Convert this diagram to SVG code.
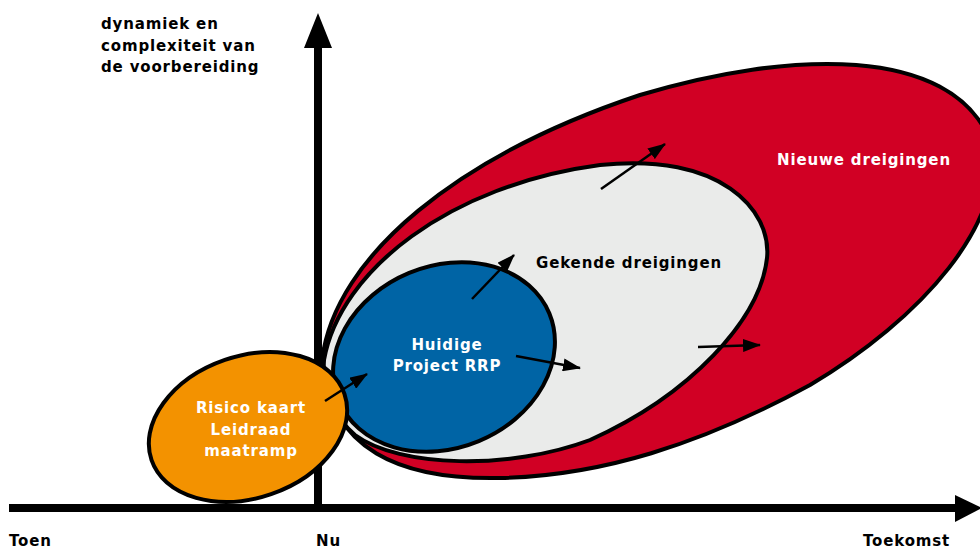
<svg xmlns="http://www.w3.org/2000/svg" width="980" height="549" viewBox="0 0 980 549">
<defs>
<style>
.t{font-family:"DejaVu Sans","Verdana",sans-serif;font-weight:bold;font-size:15px;letter-spacing:0.85px}
.w{fill:#ffffff}
.k{fill:#000000}
.shape{stroke:#000;stroke-width:4}
.arr{stroke:#000;stroke-width:2.5;fill:none}
.axis{stroke:#000;stroke-width:8;fill:none}
</style>
<marker id="ah" viewBox="0 0 18 13" refX="17" refY="6.5" markerWidth="18" markerHeight="13" markerUnits="userSpaceOnUse" orient="auto">
<path d="M0,0 L18,6.5 L0,13 Z" fill="#000"/>
</marker>
</defs>
<rect width="980" height="549" fill="#fff"/>
<g id="axes">
<line class="axis" x1="9" y1="508" x2="956" y2="508"/>
<polygon points="955,495 982,508 955,522" fill="#000"/>
<line class="axis" x1="318" y1="508" x2="318" y2="46"/>
<polygon points="304,48 318,13 332,48" fill="#000"/>
</g>
<g id="node-nieuwe">
<path class="shape" fill="#d10024" d="M322,360 C335,255 460,155 640,95 C790,50 950,45 990,140 C1010,220 920,320 810,385 C700,445 600,476 500,478 C400,480 330,450 322,360 Z"/>
<text class="t w" x="864" y="165" text-anchor="middle">Nieuwe dreigingen</text>
</g>
<g id="node-gekende">
<path class="shape" fill="#eaebea" d="M324,360 C340,270 450,185 600,165 C720,152 772,210 767,258 C760,320 690,395 590,440 C510,470 400,468 355,435 C332,415 322,390 324,360 Z"/>
<text class="t k" x="629" y="268" text-anchor="middle">Gekende dreigingen</text>
</g>
<g id="node-huidige">
<ellipse class="shape" fill="#0064a5" cx="444" cy="357" rx="114" ry="91" transform="rotate(-22.5 444 357)"/>
<text class="t w" x="447" y="350" text-anchor="middle">Huidige</text>
<text class="t w" x="447" y="371" text-anchor="middle">Project RRP</text>
</g>
<g id="node-risico">
<ellipse class="shape" fill="#f39200" cx="248" cy="427" rx="102" ry="71" transform="rotate(-19 248 427)"/>
<text class="t w" x="251" y="413" text-anchor="middle">Risico kaart</text>
<text class="t w" x="251" y="435" text-anchor="middle">Leidraad</text>
<text class="t w" x="251" y="456" text-anchor="middle">maatramp</text>
</g>
<g id="connectors">
<line class="arr" marker-end="url(#ah)" x1="325" y1="401" x2="367" y2="374"/>
<line class="arr" marker-end="url(#ah)" x1="472" y1="299" x2="514" y2="255"/>
<line class="arr" marker-end="url(#ah)" x1="516" y1="356" x2="580" y2="368"/>
<line class="arr" marker-end="url(#ah)" x1="601" y1="189" x2="665" y2="144"/>
<line class="arr" marker-end="url(#ah)" x1="698" y1="347" x2="760" y2="345"/>
</g>
<g id="labels">
<text class="t k" x="101" y="29">dynamiek en</text>
<text class="t k" x="101" y="51">complexiteit van</text>
<text class="t k" x="101" y="72">de voorbereiding</text>
<text class="t k" x="9" y="546">Toen</text>
<text class="t k" x="316" y="546">Nu</text>
<text class="t k" x="863" y="546">Toekomst</text>
</g>
</svg>
